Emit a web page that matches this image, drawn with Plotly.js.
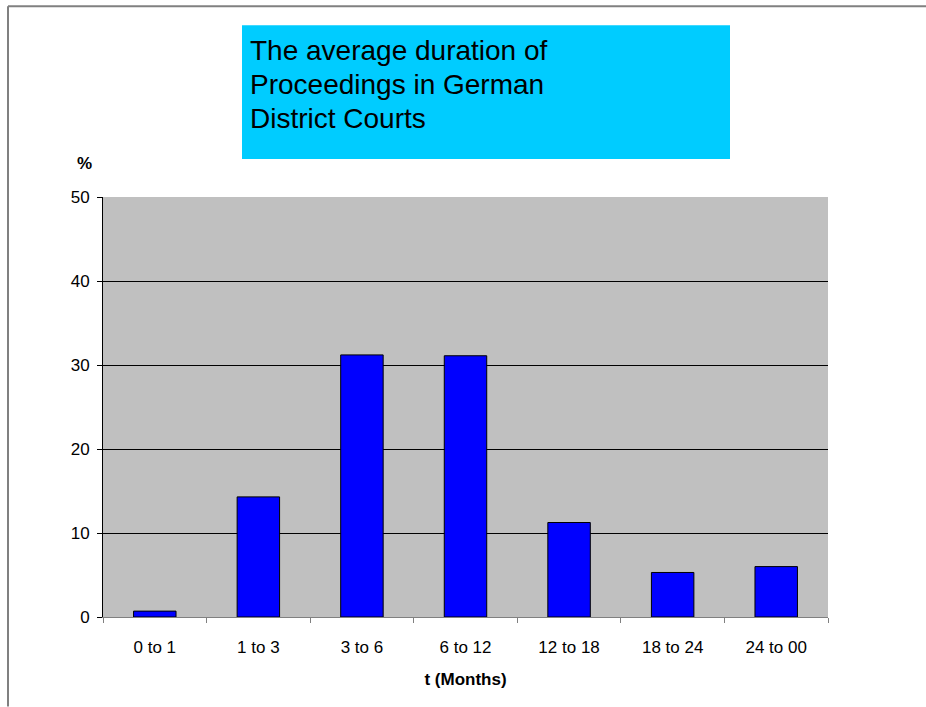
<!DOCTYPE html>
<html>
<head>
<meta charset="utf-8">
<script src="https://cdn.plot.ly/plotly-3.0.1.min.js"></script>
<style>
  html, body { margin: 0; padding: 0; background: #ffffff; }
  #chart { width: 926px; height: 707px; }
</style>
</head>
<body>
<div id="chart"></div>
<script>
// Data
const categories = ["0 to 1", "1 to 3", "3 to 6", "6 to 12", "12 to 18", "18 to 24", "24 to 00"];
const percentValues = [0.7, 14.3, 31.2, 31.1, 11.25, 5.3, 6.0];
const yTickValues = [0, 10, 20, 30, 40, 50];
const titleLines = ["The average duration of", "Proceedings in German", "District Courts"];
const xAxisTitle = "t (Months)";
const yAxisTitle = "%";

// Layout geometry (pixels) for the figure
const W = 926, H = 707;
const mL = 103, mR = 98, mT = 197, mB = 89.5;
const plotW = W - mL - mR, plotH = H - mT - mB;
const px = x => (x - mL) / plotW;          // pixel x -> paper x
const py = y => (H - mB - y) / plotH;      // pixel y -> paper y

const trace = {
  type: "bar",
  x: categories,
  y: percentValues,
  marker: { color: "#0000ff", line: { color: "#000000", width: 1 } },
  hoverinfo: "x+y"
};

const titleYs = [50, 84.5, 118];
const titleAnnotations = titleLines.map((t, i) => ({
  text: t, xref: "paper", yref: "paper",
  x: px(248), y: py(titleYs[i]), xanchor: "left", yanchor: "middle", align: "left",
  showarrow: false, font: { size: 28, color: "#000000" }
}));

const layout = {
  width: W,
  height: H,
  margin: { l: mL, r: mR, t: mT, b: mB, pad: 0 },
  paper_bgcolor: "#ffffff",
  plot_bgcolor: "#c0c0c0",
  showlegend: false,
  bargap: 0.59,
  font: { family: "Liberation Sans, Arial, sans-serif", color: "#000000", size: 17 },
  xaxis: {
    type: "category",
    tickson: "boundaries",
    ticks: "outside",
    ticklen: 5,
    tickcolor: "#808080",
    tickwidth: 1,
    showline: true,
    linecolor: "#808080",
    linewidth: 1,
    showgrid: false,
    zeroline: false,
    tickfont: { size: 17 },
    ticklabelstandoff: 15,
    title: { text: xAxisTitle, font: { size: 17, weight: "bold" }, standoff: 16 },
    fixedrange: true
  },
  yaxis: {
    range: [0, 50],
    tickvals: yTickValues,
    ticks: "outside",
    ticklen: 5,
    tickcolor: "#000000",
    tickwidth: 1,
    showline: true,
    linecolor: "#000000",
    linewidth: 1,
    showgrid: true,
    gridcolor: "#000000",
    gridwidth: 1,
    zeroline: false,
    tickfont: { size: 17 },
    ticklabelstandoff: 4,
    fixedrange: true
  },
  shapes: [
    // title box
    { type: "rect", xref: "paper", yref: "paper",
      x0: px(242), x1: px(730), y0: py(159), y1: py(25),
      fillcolor: "#00ccff", line: { width: 0 }, layer: "below" },
    // page frame: top and left edges
    { type: "line", xref: "paper", yref: "paper",
      x0: px(8), x1: px(926), y0: py(6), y1: py(6),
      line: { color: "#808080", width: 2 } },
    { type: "line", xref: "paper", yref: "paper",
      x0: px(8), x1: px(8), y0: py(6), y1: py(707),
      line: { color: "#808080", width: 2 } }
  ],
  annotations: titleAnnotations.concat([
    { text: yAxisTitle, xref: "paper", yref: "paper",
      x: px(84), y: py(163), xanchor: "center", yanchor: "middle",
      showarrow: false, font: { size: 17, weight: "bold", color: "#000000" } }
  ])
};

Plotly.newPlot("chart", [trace], layout, { displayModeBar: false, staticPlot: true });
</script>
</body>
</html>
